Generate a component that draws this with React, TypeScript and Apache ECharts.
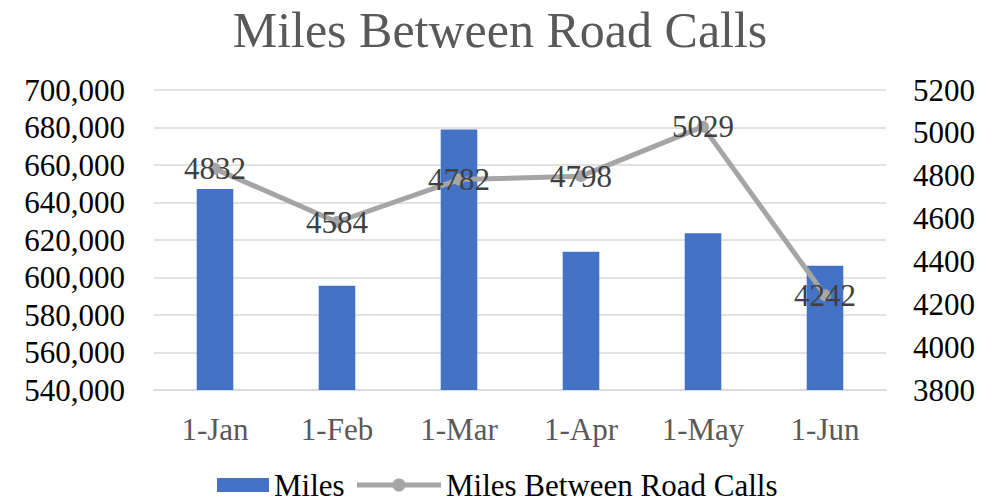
import React, { useEffect, useRef } from "react";
import * as echarts from "echarts";

const categories = ["1-Jan", "1-Feb", "1-Mar", "1-Apr", "1-May", "1-Jun"];
const miles = [647200, 595600, 679000, 613800, 623600, 606300];
const mbrc = [4832, 4584, 4782, 4798, 5029, 4242];
const seriesNames = ["Miles", "Miles Between Road Calls"];

const FONT = "Liberation Serif";
const BLUE = "#4472C4";
const GRAY = "#A5A5A5";

export default function App() {
  const ref = useRef<HTMLDivElement>(null);
  useEffect(() => {
    const chart = echarts.init(ref.current!, null, { renderer: "svg" });
    const ly = 485;
    chart.setOption({
      animation: false,
      textStyle: { fontFamily: FONT },
      title: {
        text: "Miles Between Road Calls",
        left: "center",
        top: 0,
        textStyle: { fontFamily: FONT, fontSize: 50, fontWeight: "normal", color: "#595959" },
      },
      legend: { show: false },
      graphic: [
        { type: "rect", shape: { x: 217, y: ly - 7, width: 52, height: 14 }, style: { fill: BLUE } },
        {
          type: "text",
          x: 274,
          y: ly,
          style: { text: seriesNames[0], font: `31px ${FONT}`, fill: "#000", verticalAlign: "middle" },
        },
        {
          type: "line",
          shape: { x1: 357, y1: ly, x2: 441, y2: ly },
          style: { stroke: GRAY, lineWidth: 5 },
        },
        { type: "circle", shape: { cx: 399, cy: ly, r: 6.5 }, style: { fill: GRAY } },
        {
          type: "text",
          x: 446,
          y: ly,
          style: { text: seriesNames[1], font: `31px ${FONT}`, fill: "#000", verticalAlign: "middle" },
        },
      ],
      grid: { left: 154, right: 114, top: 90, bottom: 112 },
      xAxis: {
        type: "category",
        data: categories,
        axisTick: { show: false },
        axisLine: { show: true, lineStyle: { color: "#D9D9D9", width: 1.5 } },
        axisLabel: { fontFamily: FONT, fontSize: 31, color: "#595959", margin: 24 },
      },
      yAxis: [
        {
          type: "value",
          min: 540000,
          max: 700000,
          interval: 20000,
          axisLabel: {
            fontFamily: FONT,
            fontSize: 31,
            color: "#000",
            margin: 29,
            formatter: (v: number) => v.toLocaleString("en-US"),
          },
          splitLine: { lineStyle: { color: "#D9D9D9", width: 1.5 } },
          axisLine: { show: false },
          axisTick: { show: false },
        },
        {
          type: "value",
          min: 3800,
          max: 5200,
          interval: 200,
          axisLabel: {
            fontFamily: FONT,
            fontSize: 31,
            color: "#000",
            margin: 27,
            formatter: (v: number) => String(v),
          },
          splitLine: { show: false },
          axisLine: { show: false },
          axisTick: { show: false },
        },
      ],
      series: [
        {
          name: seriesNames[0],
          type: "bar",
          data: miles,
          barWidth: "30%",
          itemStyle: { color: BLUE },
          yAxisIndex: 0,
        },
        {
          name: seriesNames[1],
          type: "line",
          yAxisIndex: 1,
          data: mbrc,
          symbol: "circle",
          symbolSize: 12,
          lineStyle: { color: GRAY, width: 5 },
          itemStyle: { color: GRAY },
          label: {
            show: true,
            position: "inside",
            fontFamily: FONT,
            fontSize: 31,
            color: "#404040",
          },
        },
      ],
    });
    return () => chart.dispose();
  }, []);
  return <div ref={ref} style={{ width: 1000, height: 502, position: "absolute", left: 0, top: 0 }} />;
}
